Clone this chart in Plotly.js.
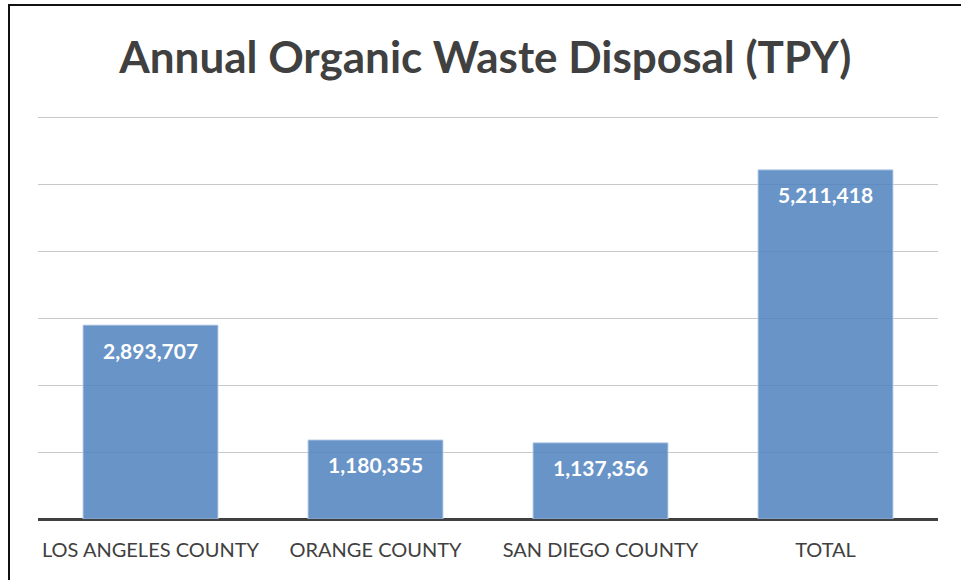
<!DOCTYPE html>
<html>
<head>
<meta charset="utf-8">
<script src="https://cdn.plot.ly/plotly-3.0.1.min.js"></script>
<style>
  html, body { margin: 0; padding: 0; background: #ffffff; }
  #wrap { position: relative; width: 961px; height: 580px; overflow: hidden; }
  #chart { position: absolute; left: 0; top: 0; width: 961px; height: 580px; }
  #frame { position: absolute; left: 8px; top: 4px; width: 980px; height: 600px;
           border-left: 2px solid #111; border-top: 2px solid #111; pointer-events: none; }
</style>
</head>
<body>
<div id="wrap">
  <div id="chart"></div>
  <div id="frame"></div>
</div>
<script>
const categories = ["LOS ANGELES COUNTY", "ORANGE COUNTY", "SAN DIEGO COUNTY", "TOTAL"];
const values = [2893707, 1180355, 1137356, 5211418];
const chartTitle = "Annual Organic Waste Disposal (TPY)";

const fmt = v => v.toLocaleString("en-US");

const trace = {
  type: "bar",
  x: categories,
  y: values,
  marker: {
    color: "rgba(79,129,189,0.85)",
    line: { color: "rgba(190,210,235,0.9)", width: 1 }
  },
  hoverinfo: "none"
};

const annotations = categories.map((c, i) => ({
  x: c, y: values[i], xref: "x", yref: "y",
  text: fmt(values[i]), showarrow: false,
  yshift: -25,
  font: { family: "Lato, 'Open Sans', sans-serif", size: 21, color: "#ffffff", weight: "bold" }
}));

const layout = {
  width: 961, height: 580,
  margin: { l: 38, r: 23, t: 104, b: 61 },
  paper_bgcolor: "#ffffff", plot_bgcolor: "#ffffff",
  bargap: 0.4,
  showlegend: false,
  title: {
    text: "<b>" + chartTitle + "</b>",
    font: { family: "Lato, 'Open Sans', sans-serif", size: 44, color: "#404040" },
    x: 0.505, xanchor: "center", y: 0.9, yanchor: "middle"
  },
  xaxis: {
    type: "category",
    showgrid: false, zeroline: false, showline: false,
    ticks: "", tickfont: { family: "Lato, 'Open Sans', sans-serif", size: 20, color: "#404040" },
    ticklabelstandoff: 17
  },
  yaxis: {
    range: [0, 6194000], tickmode: "linear", dtick: 1000000, tick0: 0,
    showticklabels: false, ticks: "",
    showgrid: true, gridcolor: "#c8c8c8", gridwidth: 1,
    zeroline: true, zerolinecolor: "#404040", zerolinewidth: 3,
    showline: false
  },
  annotations: annotations
};

Plotly.newPlot("chart", [trace], layout, { staticPlot: true, displayModeBar: false });
</script>
</body>
</html>
